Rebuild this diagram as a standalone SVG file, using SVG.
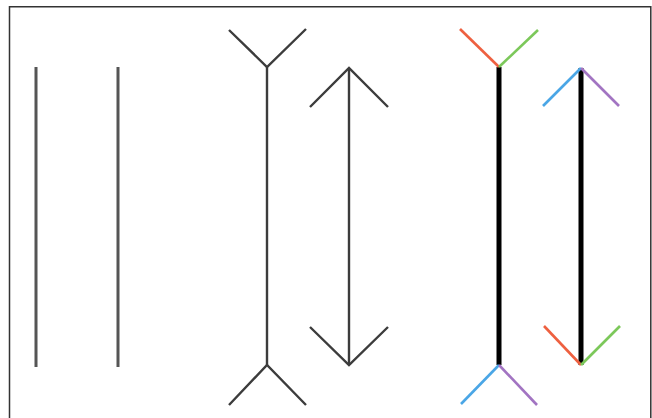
<svg xmlns="http://www.w3.org/2000/svg" width="652" height="418" viewBox="0 0 652 418">
<style>
.frame{fill:none;stroke:#333;stroke-width:1.5}
.plain{stroke:#555;stroke-width:3;stroke-linecap:butt;fill:none}
.thin{stroke:#3c3c3c;stroke-width:2.4;fill:none;stroke-linecap:butt;stroke-linejoin:miter}
.bold{stroke:#000;stroke-width:5;fill:none}
.fin{stroke-width:2.6;fill:none;stroke-linecap:butt}
.red{stroke:#ee6040}
.green{stroke:#7cc85a}
.blue{stroke:#4aa6e6}
.purple{stroke:#a274c2}
</style>
<rect x="0" y="0" width="652" height="418" fill="#fff"/>
<path class="frame" d="M9.5,418 V6.8 H650.8 V418"/>
<g id="line-a"><line class="plain" x1="36" y1="67" x2="36" y2="367"/></g>
<g id="line-b"><line class="plain" x1="118" y1="67" x2="118" y2="367"/></g>
<g id="fins-out">
<line class="thin" x1="267" y1="67" x2="267" y2="365"/>
<polyline class="thin" points="229,30 267,67 306,29"/>
<polyline class="thin" points="229,405 267,365 306,405"/>
</g>
<g id="fins-in">
<line class="thin" x1="349" y1="68" x2="349" y2="365"/>
<polyline class="thin" points="310,107 349,68 388,107"/>
<polyline class="thin" points="310,327 349,365 388,327"/>
</g>
<g id="colored-out">
<line class="bold" x1="499" y1="67" x2="499" y2="365"/>
<line class="fin red" x1="460" y1="29" x2="499" y2="67"/>
<line class="fin green" x1="538" y1="30" x2="499" y2="67"/>
<line class="fin blue" x1="461" y1="404" x2="499" y2="365"/>
<line class="fin purple" x1="537" y1="405" x2="499" y2="365"/>
</g>
<g id="colored-in">
<line class="bold" x1="581" y1="68" x2="581" y2="365"/>
<line class="fin blue" x1="543" y1="106" x2="581" y2="68"/>
<line class="fin purple" x1="619" y1="106" x2="581" y2="68"/>
<line class="fin red" x1="544" y1="326" x2="581" y2="365"/>
<line class="fin green" x1="620" y1="326" x2="581" y2="365"/>
</g>
</svg>
